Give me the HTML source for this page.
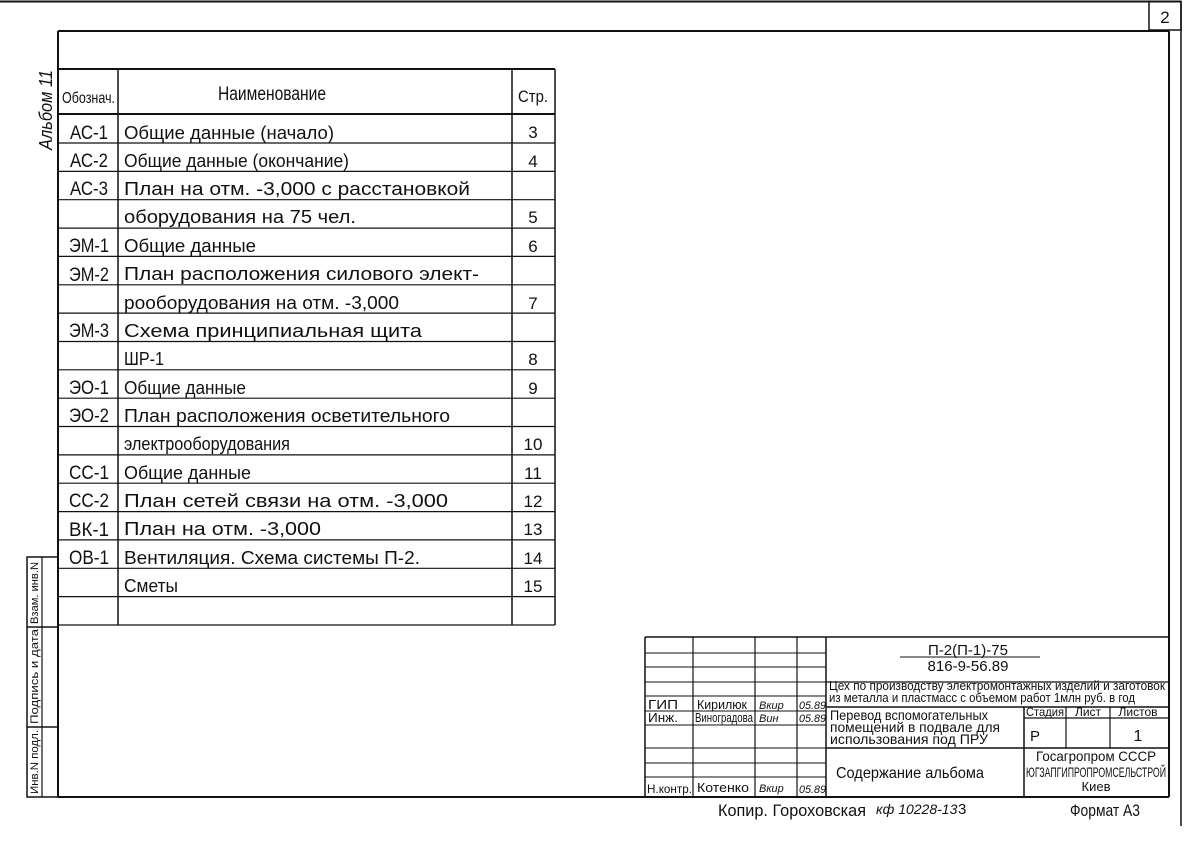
<!DOCTYPE html>
<html><head><meta charset="utf-8"><style>
html,body{margin:0;padding:0;background:#fff;}
svg{display:block;}
text{font-family:"Liberation Sans Narrow","Liberation Sans",sans-serif;fill:#111;}
</style></head><body>
<svg width="1194" height="844" viewBox="0 0 1194 844" xmlns="http://www.w3.org/2000/svg">
<rect x="0" y="0" width="1194" height="844" fill="#fff"/>
<g stroke="#111" fill="none">
<line x1="0" y1="1.5" x2="1181" y2="1.5" stroke-width="2"/>
<line x1="1181" y1="1" x2="1181" y2="826" stroke-width="1.5"/>
<rect x="1149" y="1.5" width="32" height="28.5" stroke-width="1.5"/>
<line x1="58" y1="31" x2="1169" y2="31" stroke-width="2"/>
<line x1="58" y1="31" x2="58" y2="797" stroke-width="2"/>
<line x1="1169" y1="31" x2="1169" y2="797" stroke-width="2"/>
<line x1="58" y1="797" x2="1169" y2="797" stroke-width="2"/>
<rect x="27" y="557" width="31" height="240" stroke-width="1.5"/>
<line x1="42" y1="557" x2="42" y2="797" stroke-width="1.2"/>
<line x1="27" y1="627" x2="58" y2="627" stroke-width="1.5"/>
<line x1="27" y1="727" x2="58" y2="727" stroke-width="1.5"/>
<line x1="58" y1="69" x2="555" y2="69" stroke-width="2"/>
<line x1="58" y1="114" x2="555" y2="114" stroke-width="2"/>
<line x1="555" y1="69" x2="555" y2="625" stroke-width="1.5"/>
<line x1="118" y1="69" x2="118" y2="625" stroke-width="1.5"/>
<line x1="512" y1="69" x2="512" y2="625" stroke-width="1.5"/>
<g stroke-width="1.2">
<line x1="58" y1="143" x2="555" y2="143"/>
<line x1="58" y1="171.4" x2="555" y2="171.4"/>
<line x1="58" y1="199.7" x2="555" y2="199.7"/>
<line x1="58" y1="228.1" x2="555" y2="228.1"/>
<line x1="58" y1="256.4" x2="555" y2="256.4"/>
<line x1="58" y1="284.8" x2="555" y2="284.8"/>
<line x1="58" y1="313.1" x2="555" y2="313.1"/>
<line x1="58" y1="341.5" x2="555" y2="341.5"/>
<line x1="58" y1="369.8" x2="555" y2="369.8"/>
<line x1="58" y1="398.2" x2="555" y2="398.2"/>
<line x1="58" y1="426.5" x2="555" y2="426.5"/>
<line x1="58" y1="454.9" x2="555" y2="454.9"/>
<line x1="58" y1="483.2" x2="555" y2="483.2"/>
<line x1="58" y1="511.6" x2="555" y2="511.6"/>
<line x1="58" y1="539.9" x2="555" y2="539.9"/>
<line x1="58" y1="568.3" x2="555" y2="568.3"/>
<line x1="58" y1="596.6" x2="555" y2="596.6"/>
<line x1="58" y1="625" x2="555" y2="625"/>
</g>
<line x1="645" y1="637" x2="1168" y2="637" stroke-width="1.5"/>
<line x1="645" y1="637" x2="645" y2="797" stroke-width="1.5"/>
<line x1="693" y1="637" x2="693" y2="797" stroke-width="1.2"/>
<line x1="755" y1="637" x2="755" y2="797" stroke-width="1.2"/>
<line x1="797" y1="637" x2="797" y2="797" stroke-width="1.2"/>
<line x1="826" y1="637" x2="826" y2="797" stroke-width="1.5"/>
<g stroke-width="1">
<line x1="645" y1="653" x2="826" y2="653"/>
<line x1="645" y1="667" x2="826" y2="667"/>
<line x1="645" y1="682" x2="826" y2="682"/>
<line x1="645" y1="696" x2="826" y2="696"/>
<line x1="645" y1="711" x2="826" y2="711"/>
<line x1="645" y1="725" x2="826" y2="725"/>
<line x1="645" y1="748" x2="826" y2="748"/>
<line x1="645" y1="763" x2="826" y2="763"/>
<line x1="645" y1="777" x2="826" y2="777"/>
</g>
<line x1="826" y1="682" x2="1168" y2="682" stroke-width="1.2"/>
<line x1="826" y1="707" x2="1168" y2="707" stroke-width="1.5"/>
<line x1="1024" y1="718" x2="1168" y2="718" stroke-width="1.2"/>
<line x1="826" y1="748" x2="1168" y2="748" stroke-width="1.5"/>
<line x1="1024" y1="707" x2="1024" y2="797" stroke-width="1.5"/>
<line x1="1066" y1="707" x2="1066" y2="748" stroke-width="1.2"/>
<line x1="1110" y1="707" x2="1110" y2="748" stroke-width="1.2"/>
<line x1="900" y1="657" x2="1040" y2="657" stroke-width="1"/>
</g>

<text x="1165" y="23" font-size="17" text-anchor="middle">2</text>
<text transform="translate(52,150) rotate(-90)" font-size="18" font-style="italic" textLength="80" lengthAdjust="spacingAndGlyphs">Альбом 11</text>
<text transform="translate(38,794) rotate(-90)" font-size="11" textLength="64" lengthAdjust="spacingAndGlyphs">Инв.N подл.</text>
<text transform="translate(38,724) rotate(-90)" font-size="11" textLength="95" lengthAdjust="spacingAndGlyphs">Подпись и дата</text>
<text transform="translate(38,624) rotate(-90)" font-size="11" textLength="62" lengthAdjust="spacingAndGlyphs">Взам. инв.N</text>

<text x="62" y="103" font-size="16" textLength="53" lengthAdjust="spacingAndGlyphs">Обознач.</text>
<text x="218" y="100" font-size="19" textLength="108" lengthAdjust="spacingAndGlyphs">Наименование</text>
<text x="533" y="102" font-size="17" text-anchor="middle" textLength="30" lengthAdjust="spacingAndGlyphs">Стр.</text>

<g font-size="19" text-anchor="middle">
<text x="89" y="139" textLength="38" lengthAdjust="spacingAndGlyphs">АС-1</text>
<text x="89" y="167" textLength="38" lengthAdjust="spacingAndGlyphs">АС-2</text>
<text x="89" y="195" textLength="38" lengthAdjust="spacingAndGlyphs">АС-3</text>
<text x="89" y="252" textLength="40" lengthAdjust="spacingAndGlyphs">ЭМ-1</text>
<text x="89" y="281" textLength="40" lengthAdjust="spacingAndGlyphs">ЭМ-2</text>
<text x="89" y="337" textLength="40" lengthAdjust="spacingAndGlyphs">ЭМ-3</text>
<text x="89" y="394" textLength="40" lengthAdjust="spacingAndGlyphs">ЭО-1</text>
<text x="89" y="422" textLength="40" lengthAdjust="spacingAndGlyphs">ЭО-2</text>
<text x="89" y="479" textLength="40" lengthAdjust="spacingAndGlyphs">СС-1</text>
<text x="89" y="507" textLength="40" lengthAdjust="spacingAndGlyphs">СС-2</text>
<text x="89" y="536" textLength="40" lengthAdjust="spacingAndGlyphs">ВК-1</text>
<text x="89" y="564" textLength="40" lengthAdjust="spacingAndGlyphs">ОВ-1</text>
</g>
<g font-size="18">
<text x="124" y="139" textLength="210" lengthAdjust="spacingAndGlyphs">Общие данные (начало)</text>
<text x="124" y="167" textLength="225" lengthAdjust="spacingAndGlyphs">Общие данные (окончание)</text>
<text x="124" y="195" textLength="346" lengthAdjust="spacingAndGlyphs">План на отм. -3,000 с расстановкой</text>
<text x="124" y="223" textLength="232" lengthAdjust="spacingAndGlyphs">оборудования на 75 чел.</text>
<text x="124" y="252" textLength="132" lengthAdjust="spacingAndGlyphs">Общие данные</text>
<text x="124" y="280" textLength="355" lengthAdjust="spacingAndGlyphs">План расположения силового элект-</text>
<text x="124" y="309" textLength="275" lengthAdjust="spacingAndGlyphs">рооборудования на отм. -3,000</text>
<text x="124" y="337" textLength="298" lengthAdjust="spacingAndGlyphs">Схема принципиальная щита</text>
<text x="124" y="365" textLength="40" lengthAdjust="spacingAndGlyphs">ШР-1</text>
<text x="124" y="394" textLength="122" lengthAdjust="spacingAndGlyphs">Общие данные</text>
<text x="124" y="422" textLength="326" lengthAdjust="spacingAndGlyphs">План расположения осветительного</text>
<text x="124" y="450" textLength="166" lengthAdjust="spacingAndGlyphs">электрооборудования</text>
<text x="124" y="479" textLength="127" lengthAdjust="spacingAndGlyphs">Общие данные</text>
<text x="124" y="507" textLength="324" lengthAdjust="spacingAndGlyphs">План сетей связи на отм. -3,000</text>
<text x="124" y="535" textLength="197" lengthAdjust="spacingAndGlyphs">План на отм. -3,000</text>
<text x="124" y="564" textLength="296" lengthAdjust="spacingAndGlyphs">Вентиляция. Схема системы П-2.</text>
<text x="124" y="592" textLength="54" lengthAdjust="spacingAndGlyphs">Сметы</text>
</g>
<g font-size="17" text-anchor="middle">
<text x="533" y="138">3</text>
<text x="533" y="167">4</text>
<text x="533" y="223">5</text>
<text x="533" y="252">6</text>
<text x="533" y="309">7</text>
<text x="533" y="365">8</text>
<text x="533" y="394">9</text>
<text x="533" y="450">10</text>
<text x="533" y="479">11</text>
<text x="533" y="507">12</text>
<text x="533" y="535">13</text>
<text x="533" y="564">14</text>
<text x="533" y="592">15</text>
</g>

<g font-size="13">
<text x="648" y="709" textLength="30" lengthAdjust="spacingAndGlyphs">ГИП</text>
<text x="648" y="722" textLength="30" lengthAdjust="spacingAndGlyphs">Инж.</text>
<text x="697" y="709" textLength="50" lengthAdjust="spacingAndGlyphs">Кирилюк</text>
<text x="695" y="722" textLength="58" lengthAdjust="spacingAndGlyphs">Виноградова</text>
<text x="759" y="709" font-style="italic" font-size="11">Вкир</text>
<text x="759" y="722" font-style="italic" font-size="11">Вин</text>
<text x="799" y="709" font-size="11" font-style="italic" textLength="27" lengthAdjust="spacingAndGlyphs">05.89</text>
<text x="799" y="722" font-size="11" font-style="italic" textLength="27" lengthAdjust="spacingAndGlyphs">05.89</text>
<text x="647" y="793" font-size="12" textLength="45" lengthAdjust="spacingAndGlyphs">Н.контр.</text>
<text x="697" y="792" textLength="52" lengthAdjust="spacingAndGlyphs">Котенко</text>
<text x="759" y="792" font-style="italic" font-size="11">Вкир</text>
<text x="799" y="793" font-size="11" font-style="italic" textLength="27" lengthAdjust="spacingAndGlyphs">05.89</text>
</g>
<text x="968" y="655" font-size="15" text-anchor="middle">П-2(П-1)-75</text>
<text x="968" y="671" font-size="15" text-anchor="middle">816-9-56.89</text>
<text x="829" y="690" font-size="13" textLength="336" lengthAdjust="spacingAndGlyphs">Цех по производству электромонтажных изделий и заготовок</text>
<text x="829" y="702" font-size="13" textLength="306" lengthAdjust="spacingAndGlyphs">из металла и пластмасс с объемом работ 1млн руб. в год</text>
<text x="830" y="720" font-size="14" textLength="158" lengthAdjust="spacingAndGlyphs">Перевод вспомогательных</text>
<text x="830" y="732" font-size="14" textLength="170" lengthAdjust="spacingAndGlyphs">помещений в подвале для</text>
<text x="830" y="744" font-size="14" textLength="158" lengthAdjust="spacingAndGlyphs">использования под ПРУ</text>
<text x="1045" y="716" font-size="12" text-anchor="middle" textLength="38" lengthAdjust="spacingAndGlyphs">Стадия</text>
<text x="1088" y="716" font-size="12" text-anchor="middle">Лист</text>
<text x="1138" y="716" font-size="12" text-anchor="middle">Листов</text>
<text x="1030" y="741" font-size="15">Р</text>
<text x="1138" y="741" font-size="16" text-anchor="middle">1</text>
<text x="836" y="778" font-size="16" textLength="148" lengthAdjust="spacingAndGlyphs">Содержание альбома</text>
<text x="1096" y="761" font-size="14" text-anchor="middle" textLength="120" lengthAdjust="spacingAndGlyphs">Госагропром СССР</text>
<text x="1096" y="777" font-size="14" text-anchor="middle" textLength="140" lengthAdjust="spacingAndGlyphs">ЮГЗАПГИПРОПРОМСЕЛЬСТРОЙ</text>
<text x="1096" y="791" font-size="13" text-anchor="middle">Киев</text>
<text x="718" y="816" font-size="17" textLength="148" lengthAdjust="spacingAndGlyphs">Копир. Гороховская</text>
<text x="876" y="814" font-size="14" font-style="italic">кф 10228-13</text>
<text x="958" y="814" font-size="15">3</text>
<text x="1070" y="816" font-size="17" textLength="70" lengthAdjust="spacingAndGlyphs">Формат А3</text>
</svg>
</body></html>
